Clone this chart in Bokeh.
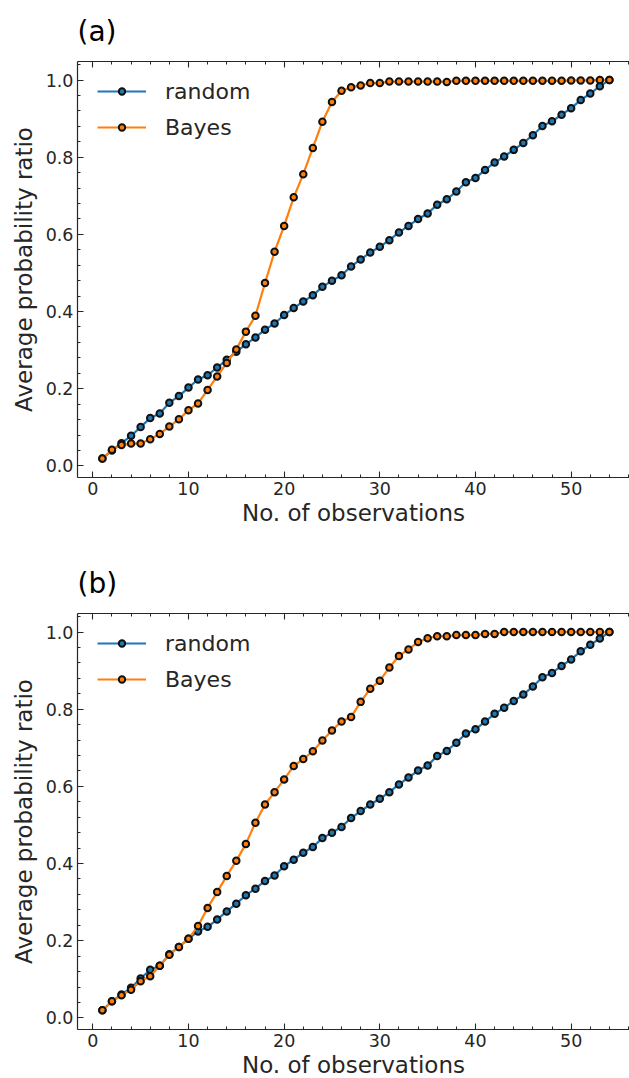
from bokeh.plotting import figure
from bokeh.models import (LinearAxis, SingleIntervalTicker, Range1d, Legend, LegendItem,
                          PrintfTickFormatter)
from bokeh.layouts import column
from bokeh.embed import file_html
from bokeh.resources import INLINE

obs = list(range(1, 55))

random_a = [0.019, 0.040, 0.059, 0.078, 0.101, 0.124, 0.136, 0.164, 0.181, 0.203,
            0.224, 0.235, 0.255, 0.275, 0.296, 0.315, 0.333, 0.353, 0.369, 0.391,
            0.409, 0.426, 0.442, 0.464, 0.480, 0.494, 0.517, 0.535, 0.553, 0.568,
            0.585, 0.605, 0.622, 0.640, 0.654, 0.677, 0.691, 0.711, 0.735, 0.746,
            0.767, 0.786, 0.802, 0.819, 0.837, 0.857, 0.881, 0.893, 0.910, 0.927,
            0.948, 0.965, 0.984, 1.000]
bayes_a = [0.019, 0.042, 0.054, 0.058, 0.058, 0.069, 0.083, 0.102, 0.121, 0.144,
           0.162, 0.197, 0.232, 0.267, 0.302, 0.348, 0.389, 0.474, 0.555, 0.622,
           0.696, 0.756, 0.824, 0.892, 0.943, 0.972, 0.981, 0.986, 0.992, 0.992,
           0.996, 0.996, 0.996, 0.996, 0.996, 0.996, 0.995, 0.998, 0.998, 0.998,
           0.998, 0.998, 0.998, 0.998, 0.998, 0.998, 0.998, 0.998, 0.998, 0.999,
           0.999, 0.999, 1.000, 1.000]
random_b = [0.020, 0.043, 0.061, 0.078, 0.102, 0.125, 0.135, 0.165, 0.184, 0.205,
            0.224, 0.236, 0.255, 0.276, 0.296, 0.318, 0.335, 0.355, 0.369, 0.393,
            0.410, 0.428, 0.443, 0.466, 0.480, 0.495, 0.518, 0.536, 0.553, 0.568,
            0.585, 0.605, 0.623, 0.641, 0.654, 0.679, 0.692, 0.713, 0.737, 0.748,
            0.768, 0.788, 0.804, 0.821, 0.838, 0.859, 0.883, 0.894, 0.912, 0.929,
            0.950, 0.967, 0.983, 1.000]
bayes_b = [0.020, 0.043, 0.059, 0.073, 0.095, 0.108, 0.135, 0.164, 0.184, 0.205,
           0.238, 0.285, 0.326, 0.368, 0.407, 0.451, 0.506, 0.553, 0.585, 0.618,
           0.653, 0.671, 0.691, 0.719, 0.745, 0.768, 0.780, 0.819, 0.853, 0.874,
           0.908, 0.938, 0.955, 0.974, 0.984, 0.989, 0.989, 0.992, 0.992, 0.992,
           0.995, 0.995, 1.000, 1.000, 1.000, 1.000, 1.000, 1.000, 1.000, 1.000,
           1.000, 1.000, 1.000, 1.000]

panel_titles = ["(a)", "(b)"]
series_names = ["random", "Bayes"]
colors = ["#1f77b4", "#ff7f0e"]
x_label = "No. of observations"
y_label = "Average probability ratio"

FONT = "DejaVu Sans"
AX = "#262626"


def style_axis(ax, ticker, show_labels=True):
    ax.ticker = ticker
    ax.axis_line_color = AX
    ax.axis_line_width = 1.2
    ax.major_tick_line_color = AX
    ax.minor_tick_line_color = AX
    ax.major_tick_line_width = 1.1
    ax.minor_tick_line_width = 1.0
    ax.major_tick_in = 6
    ax.major_tick_out = 0
    ax.minor_tick_in = 3
    ax.minor_tick_out = 0
    ax.major_label_text_font = FONT
    ax.major_label_text_color = AX
    if show_labels:
        ax.major_label_text_font_size = "17.5px"
        ax.major_label_standoff = 4
    else:
        ax.major_label_text_font_size = "0px"
        ax.major_label_standoff = 0
        ax.major_label_text_alpha = 0


def make_panel(title, rnd, bay, height, bottom):
    p = figure(width=629, height=height, output_backend="svg", toolbar_location=None,
               x_range=Range1d(-1.6, 56.1), y_range=Range1d(-0.03, 1.048),
               min_border_left=77, min_border_right=0, min_border_top=61,
               min_border_bottom=bottom, x_axis_location=None, y_axis_location=None)
    p.frame_height = 416
    p.frame_width = 552
    p.outline_line_color = None
    p.xgrid.visible = False
    p.ygrid.visible = False
    p.background_fill_color = "white"
    p.border_fill_color = "white"

    xt = SingleIntervalTicker(interval=10, num_minor_ticks=5)
    yt = SingleIntervalTicker(interval=0.2, num_minor_ticks=5)

    xb = LinearAxis(axis_label=x_label)
    style_axis(xb, xt)
    xb.axis_label_text_font = FONT
    xb.axis_label_text_font_size = "23px"
    xb.axis_label_text_font_style = "normal"
    xb.axis_label_text_color = AX
    xb.axis_label_standoff = 2
    p.add_layout(xb, "below")

    yl = LinearAxis(axis_label=y_label)
    style_axis(yl, yt)
    yl.formatter = PrintfTickFormatter(format="%.1f")
    yl.axis_label_text_font = FONT
    yl.axis_label_text_font_size = "23px"
    yl.axis_label_text_font_style = "normal"
    yl.axis_label_text_color = AX
    yl.axis_label_standoff = 6
    p.add_layout(yl, "left")

    xa = LinearAxis()
    style_axis(xa, SingleIntervalTicker(interval=10, num_minor_ticks=5), show_labels=False)
    p.add_layout(xa, "above")

    p.title.text = title
    p.title.text_font = FONT
    p.title.text_font_size = "28px"
    p.title.text_font_style = "normal"
    p.title.text_color = "black"
    p.title.align = "left"
    p.title.vertical_align = "top"
    p.title.standoff = 24

    items = []
    for vals, name, col in zip([rnd, bay], series_names, colors):
        ln = p.line(obs, vals, line_color=col, line_width=2.2)
        sc = p.scatter(obs, vals, size=6.5, fill_color=col, line_color="#111111",
                       line_width=2)
        items.append(LegendItem(label=name, renderers=[ln, sc]))

    leg = Legend(items=items, location=(20, 332))
    leg.margin = 0
    leg.padding = 0
    leg.spacing = 0
    leg.glyph_width = 49
    leg.glyph_height = 16
    leg.label_height = 36
    leg.label_standoff = 19
    leg.label_text_font = FONT
    leg.label_text_font_size = "22px"
    leg.label_text_color = AX
    leg.border_line_color = None
    leg.background_fill_alpha = 0
    p.add_layout(leg, "center")
    return p


p1 = make_panel(panel_titles[0], random_a, bayes_a, 552, 75)
p2 = make_panel(panel_titles[1], random_b, bayes_b, 526, 49)

layout = column(p1, p2, spacing=0)
open("out.html", "w").write(file_html(layout, INLINE))
